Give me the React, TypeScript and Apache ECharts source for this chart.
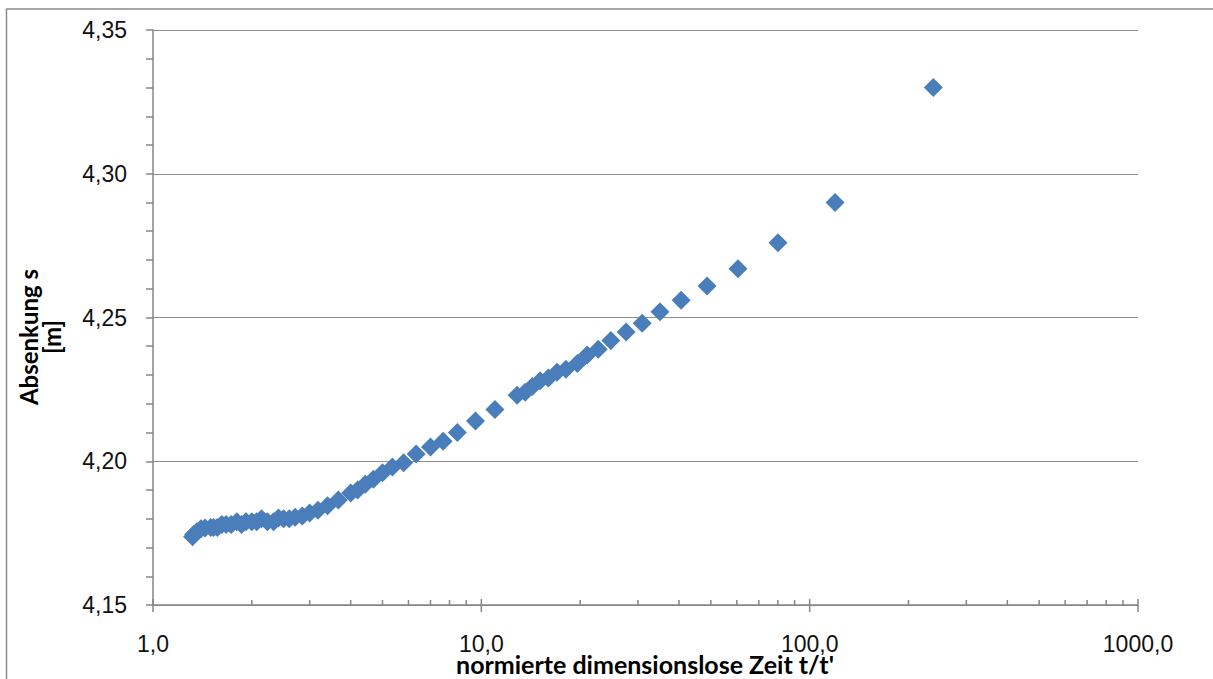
import React, { useEffect, useRef } from "react";
import * as echarts from "echarts";

// normalised dimensionless time t/t' (recovery phase)
const tRatio = [
  238, 119.5, 80.1, 60.5, 48.7, 40.6, 35.0, 30.9, 27.6, 24.8, 22.7, 21.0, 19.6, 18.1, 17.0, 16.0,
  15.1, 14.3, 13.6, 12.85, 11.0, 9.6, 8.45, 7.65, 7.0, 6.33, 5.8, 5.36, 5.0, 4.69, 4.43, 4.2, 4.0,
  3.67, 3.4, 3.18, 3.0, 2.85, 2.71, 2.6, 2.5, 2.41, 2.33, 2.23, 2.14, 2.07, 2.0, 1.92, 1.86, 1.8,
  1.73, 1.67, 1.62, 1.57, 1.53, 1.5, 1.44, 1.4, 1.36, 1.33, 1.32,
];

// drawdown s [m]
const drawdown = [
  4.33, 4.29, 4.276, 4.267, 4.261, 4.256, 4.252, 4.248, 4.245, 4.242, 4.239, 4.237, 4.234, 4.232,
  4.231, 4.229, 4.228, 4.226, 4.224, 4.223, 4.218, 4.214, 4.21, 4.207, 4.205, 4.2025, 4.1995, 4.198,
  4.196, 4.1937, 4.192, 4.19, 4.189, 4.1865, 4.1845, 4.183, 4.182, 4.181, 4.1805, 4.18, 4.18, 4.1803,
  4.179, 4.179, 4.18, 4.179, 4.179, 4.179, 4.178, 4.179, 4.178, 4.178, 4.178, 4.177, 4.177, 4.177,
  4.1768, 4.1765, 4.1755, 4.1745, 4.1737,
];

// tick positions on the logarithmic x axis
const majorTicksX = [1, 10, 100, 1000];
const minorTicksX = [
  2, 3, 4, 5, 6, 7, 8, 9, 20, 30, 40, 50, 60, 70, 80, 90, 200, 300, 400, 500, 600, 700, 800, 900,
];

const Y_MIN = 4.15;
const Y_MAX = 4.35;
const AXIS_GRAY = "#868686";
const LABEL_FONT = "'Liberation Sans', Arial, sans-serif";
const TITLE_FONT = "Lato, 'Open Sans', sans-serif";

export default function App() {
  const ref = useRef<HTMLDivElement>(null);

  useEffect(() => {
    if (!ref.current) return;
    const chart = echarts.init(ref.current, null, { renderer: "svg" });

    const points = tRatio.map((t, i) => [t, drawdown[i]]);
    const tickData = [
      ...majorTicksX.map((v) => [v, Y_MIN, 1]),
      ...minorTicksX.map((v) => [v, Y_MIN, 0]),
    ];

    chart.setOption({
      animation: false,
      backgroundColor: "#ffffff",
      grid: { left: 153, right: 75, top: 30, bottom: 74, containLabel: false },
      xAxis: {
        type: "log",
        logBase: 10,
        min: 1,
        max: 1000,
        axisLine: { show: true, lineStyle: { color: AXIS_GRAY, width: 1.5 } },
        axisTick: { show: false },
        minorTick: { show: false },
        splitLine: { show: false },
        axisLabel: {
          show: true,
          showMinLabel: true,
          showMaxLabel: true,
          margin: 27,
          color: "#111",
          fontFamily: LABEL_FONT,
          fontSize: 23,
          formatter: (v: number) => (Math.round(v * 10) / 10).toFixed(1).replace(".", ","),
        },
      },
      yAxis: {
        type: "value",
        min: Y_MIN,
        max: Y_MAX,
        interval: 0.05,
        axisLine: { show: true, lineStyle: { color: AXIS_GRAY, width: 1.5 } },
        axisTick: { show: true, inside: false, length: 7, lineStyle: { color: AXIS_GRAY, width: 1.5 } },
        minorTick: { show: true, splitNumber: 5, length: 7, lineStyle: { color: AXIS_GRAY, width: 1.5 } },
        splitLine: { show: true, lineStyle: { color: "#8c8c8c", width: 1.2 } },
        axisLabel: {
          margin: 26,
          color: "#111",
          fontFamily: LABEL_FONT,
          fontSize: 23,
          formatter: (v: number) => v.toFixed(2).replace(".", ","),
        },
      },
      graphic: [
        {
          type: "rect",
          z: -10,
          silent: true,
          shape: { x: 6.5, y: 9, width: 1300, height: 800 },
          style: { fill: "none", stroke: "#8a8a8a", lineWidth: 1.5 },
        },
        {
          type: "text",
          x: 645,
          y: 664,
          style: {
            text: "normierte dimensionslose Zeit t/t'",
            font: `bold 25px ${TITLE_FONT}`,
            fill: "#000",
            textAlign: "center",
            textVerticalAlign: "middle",
          },
        },
        {
          type: "text",
          x: 40,
          y: 337,
          rotation: Math.PI / 2,
          style: {
            text: "Absenkung s\n[m]",
            font: `bold 24px ${TITLE_FONT}`,
            lineHeight: 23,
            fill: "#000",
            textAlign: "center",
            textVerticalAlign: "middle",
          },
        },
      ],
      series: [
        {
          type: "custom",
          clip: false,
          silent: true,
          z: 3,
          data: tickData,
          encode: { x: 0, y: 1 },
          renderItem: (_params: any, api: any) => {
            const p = api.coord([api.value(0), Y_MIN]);
            const major = api.value(2) === 1;
            return {
              type: "line",
              shape: {
                x1: p[0],
                y1: p[1] + (major ? 7 : 0),
                x2: p[0],
                y2: p[1] - (major ? 6 : 5),
              },
              style: { stroke: AXIS_GRAY, lineWidth: 1.5 },
            };
          },
        },
        {
          type: "scatter",
          name: "Absenkung",
          symbol: "diamond",
          symbolSize: 19,
          z: 5,
          itemStyle: { color: "#4a7ebb", opacity: 1 },
          data: points,
        },
      ],
    });

    return () => chart.dispose();
  }, []);

  return (
    <div
      ref={ref}
      style={{ position: "fixed", left: 0, top: 0, width: 1213, height: 679, background: "#fff" }}
    />
  );
}
